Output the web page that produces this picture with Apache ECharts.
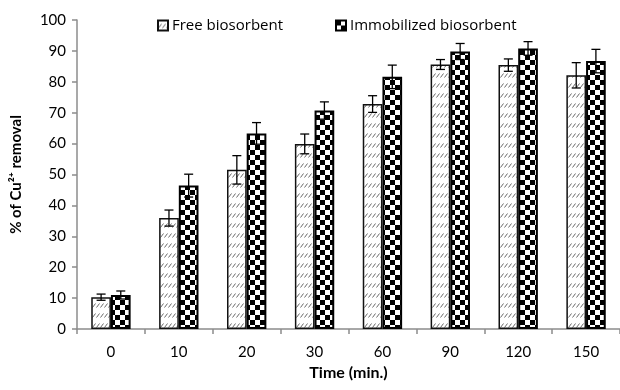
<!DOCTYPE html>
<html>
<head>
<meta charset="utf-8">
<script src="https://cdn.jsdelivr.net/npm/echarts@6/dist/echarts.min.js"></script>
<style>
html,body{margin:0;padding:0;background:#fff;}
#chart{width:620px;height:390px;}
</style>
</head>
<body>
<div id="chart"></div>
<script>
// ---- data ----
const categories = ['0', '10', '20', '30', '60', '90', '120', '150'];
const freeValues = [10.3, 35.9, 51.5, 59.9, 72.8, 85.6, 85.4, 82.1];
const freeErrors = [1.0, 2.6, 4.6, 3.2, 2.7, 1.6, 2.0, 4.1];
const immValues = [11.0, 46.4, 63.3, 70.7, 81.6, 89.8, 90.8, 86.7];
const immErrors = [1.3, 3.7, 3.5, 2.8, 3.8, 2.6, 2.2, 3.8];
const seriesNames = ['Free biosorbent', 'Immobilized biosorbent'];
const yTicks = { min: 0, max: 100, interval: 10 };

// ---- patterns ----
function hatchPattern() {
  const c = document.createElement('canvas');
  c.width = 4; c.height = 10;
  const g = c.getContext('2d');
  g.fillStyle = '#fff'; g.fillRect(0, 0, 4, 10);
  g.strokeStyle = '#6a6a6a'; g.lineWidth = 1;
  g.beginPath(); g.moveTo(0.5, 7.5); g.lineTo(3.5, 3.5); g.stroke();
  return c;
}
function checkerPattern() {
  const c = document.createElement('canvas');
  c.width = 10; c.height = 10;
  const g = c.getContext('2d');
  g.fillStyle = '#fff'; g.fillRect(0, 0, 10, 10);
  g.fillStyle = '#000';
  g.fillRect(0, 0, 5, 5); g.fillRect(5, 5, 5, 5);
  return c;
}
const hatch = { image: hatchPattern(), repeat: 'repeat' };
const checker = { image: checkerPattern(), repeat: 'repeat' };

const FONT = 'Lato, "Open Sans", "DejaVu Sans", sans-serif';
const LEGEND_FONT = '"Open Sans", Lato, "DejaVu Sans", sans-serif';
const CAT_GAP = 0.42;

function errorSeries(name, values, errors, side) {
  return {
    type: 'custom',
    name: name + ' err',
    z: 10,
    silent: true,
    data: values.map((v, i) => [i, v, errors[i]]),
    renderItem: function (params, api) {
      const i = api.value(0), v = api.value(1), e = api.value(2);
      const cw = api.size([1, 0])[0];
      const bw = cw * (1 - CAT_GAP) / 2;
      const dx = side * bw / 2;
      const top = api.coord([i, v + e]);
      const bot = api.coord([i, v - e]);
      const x = top[0] + dx;
      const cap = 4.5;
      const st = { stroke: '#000', lineWidth: 1.3 };
      return {
        type: 'group',
        children: [
          { type: 'line', shape: { x1: x, y1: top[1], x2: x, y2: bot[1] }, style: st },
          { type: 'line', shape: { x1: x - cap, y1: top[1], x2: x + cap, y2: top[1] }, style: st },
          { type: 'line', shape: { x1: x - cap, y1: bot[1], x2: x + cap, y2: bot[1] }, style: st }
        ]
      };
    }
  };
}

function legendFor(name, left) {
  return {
    data: [name],
    left: left,
    top: 18,
    padding: 0,
    itemWidth: 10,
    itemHeight: 10,
    itemGap: 0,
    icon: 'rect',
    textStyle: { fontFamily: LEGEND_FONT, fontSize: 15, color: '#000', padding: [0, 0, 0, -1] }
  };
}

const chart = echarts.init(document.getElementById('chart'), null, { renderer: 'canvas' });
chart.setOption({
  animation: false,
  backgroundColor: '#fff',
  textStyle: { fontFamily: FONT },
  legend: [legendFor(seriesNames[0], 157), legendFor(seriesNames[1], 335)],
  grid: { left: 77, right: -9, top: 20, bottom: 61, containLabel: false },
  xAxis: {
    type: 'category',
    data: categories,
    name: 'Time (min.)',
    nameLocation: 'middle',
    nameGap: 36,
    nameTextStyle: { fontFamily: FONT, fontSize: 16, fontWeight: 'bold', color: '#000' },
    axisLine: { lineStyle: { color: '#8c8c8c', width: 1.5 } },
    axisTick: { show: true, alignWithLabel: false, length: 5, lineStyle: { color: '#8c8c8c', width: 1.5 } },
    axisLabel: { fontFamily: FONT, fontSize: 15, color: '#000', margin: 16 }
  },
  yAxis: {
    type: 'value',
    min: yTicks.min,
    max: yTicks.max,
    interval: yTicks.interval,
    name: '% of Cu²⁺ removal',
    nameLocation: 'middle',
    nameGap: 53,
    nameRotate: 90,
    nameTextStyle: { fontFamily: FONT, fontSize: 15, fontWeight: 'bold', color: '#000' },
    axisLine: { show: true, lineStyle: { color: '#8c8c8c', width: 1.5 } },
    axisTick: { show: true, length: 5, lineStyle: { color: '#8c8c8c', width: 1.5 } },
    splitLine: { show: false },
    axisLabel: { fontFamily: FONT, fontSize: 15, color: '#000', margin: 11 }
  },
  series: [
    {
      name: seriesNames[0],
      type: 'bar',
      data: freeValues,
      barGap: '0%',
      barCategoryGap: (CAT_GAP * 100) + '%',
      itemStyle: { color: hatch, borderColor: '#111', borderWidth: 1.5 }
    },
    {
      name: seriesNames[1],
      type: 'bar',
      data: immValues,
      itemStyle: { color: checker, borderColor: '#000', borderWidth: 2 }
    },
    errorSeries(seriesNames[0], freeValues, freeErrors, -1),
    errorSeries(seriesNames[1], immValues, immErrors, 1)
  ]
});
</script>
</body>
</html>
